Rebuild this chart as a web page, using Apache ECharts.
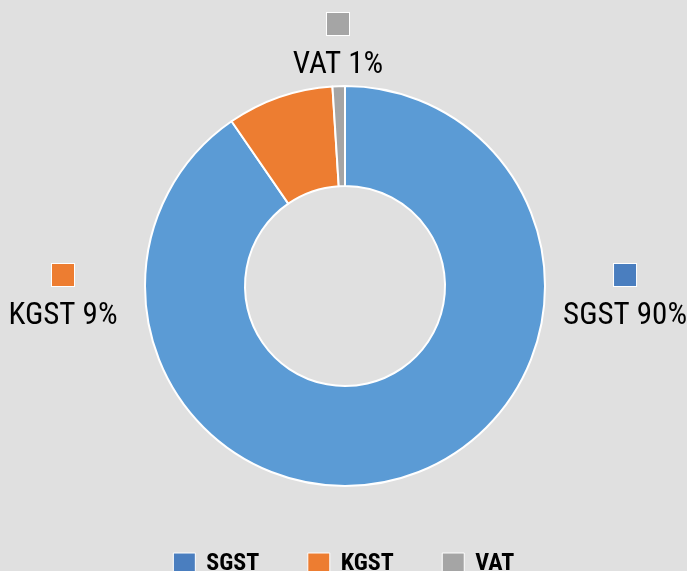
<!DOCTYPE html>
<html><head><meta charset="utf-8">
<script src="https://cdn.jsdelivr.net/npm/echarts@6/dist/echarts.min.js"></script>
<style>html,body{margin:0;padding:0;background:#e0e0e0}#c{width:687px;height:571px}</style>
</head><body><div id="c"></div>
<script>
const categories = ['SGST', 'KGST', 'VAT'];
const values = [90.4, 8.6, 1.0];
const sliceColors = ['#5B9BD5', '#ED7D31', '#A5A5A5'];
const markerColors = ['#4A7EBF', '#ED7D31', '#A5A5A5'];
const FONT = "'Roboto Condensed','Liberation Sans Narrow','DejaVu Sans Condensed',sans-serif";

const chart = echarts.init(document.getElementById('c'));
const total = values.reduce((a, b) => a + b, 0);
// label anchor placement as fractions of the canvas (layout only)
const labelPos = [[0.9098, 0.4623], [0.0917, 0.4623], [0.492, 0.0228]];

chart.setOption({
  backgroundColor: '#e0e0e0',
  animation: false,
  legend: {
    top: 547, left: 'center',
    itemWidth: 22, itemHeight: 22, itemGap: 48,
    icon: 'rect',
    textStyle: { fontFamily: FONT, fontSize: 24, fontWeight: 'bold', color: '#000', padding: [0, 0, 0, 6] },
    data: categories.map((n, i) => ({ name: n, itemStyle: { color: markerColors[i], borderColor: '#fff', borderWidth: 1 } }))
  },
  series: [{
    type: 'pie',
    center: [345, 286],
    radius: [100, 200],
    startAngle: 90,
    clockwise: true,
    itemStyle: { borderColor: '#fff', borderWidth: 2 },
    labelLine: { show: false },
    label: {
      show: true,
      position: 'outside',
      formatter: p => '{m' + p.dataIndex + '|}\n{t|' + p.name + ' ' + Math.round(p.value / total * 100) + '%}',
      rich: Object.assign({
        t: { fontFamily: FONT, fontSize: 31, color: '#000', lineHeight: 44, padding: [17, 0, 0, 0] }
      }, ...markerColors.map((c, i) => ({ ['m' + i]: { width: 22, height: 22, backgroundColor: c, borderColor: '#fff', borderWidth: 1 } })))
    },
    labelLayout: function (params) {
      const p = labelPos[params.dataIndex];
      return { x: p[0] * 687, y: p[1] * 571, align: 'center', verticalAlign: 'top' };
    },
    data: categories.map((n, i) => ({ name: n, value: values[i], itemStyle: { color: sliceColors[i] } }))
  }]
});
</script></body></html>
